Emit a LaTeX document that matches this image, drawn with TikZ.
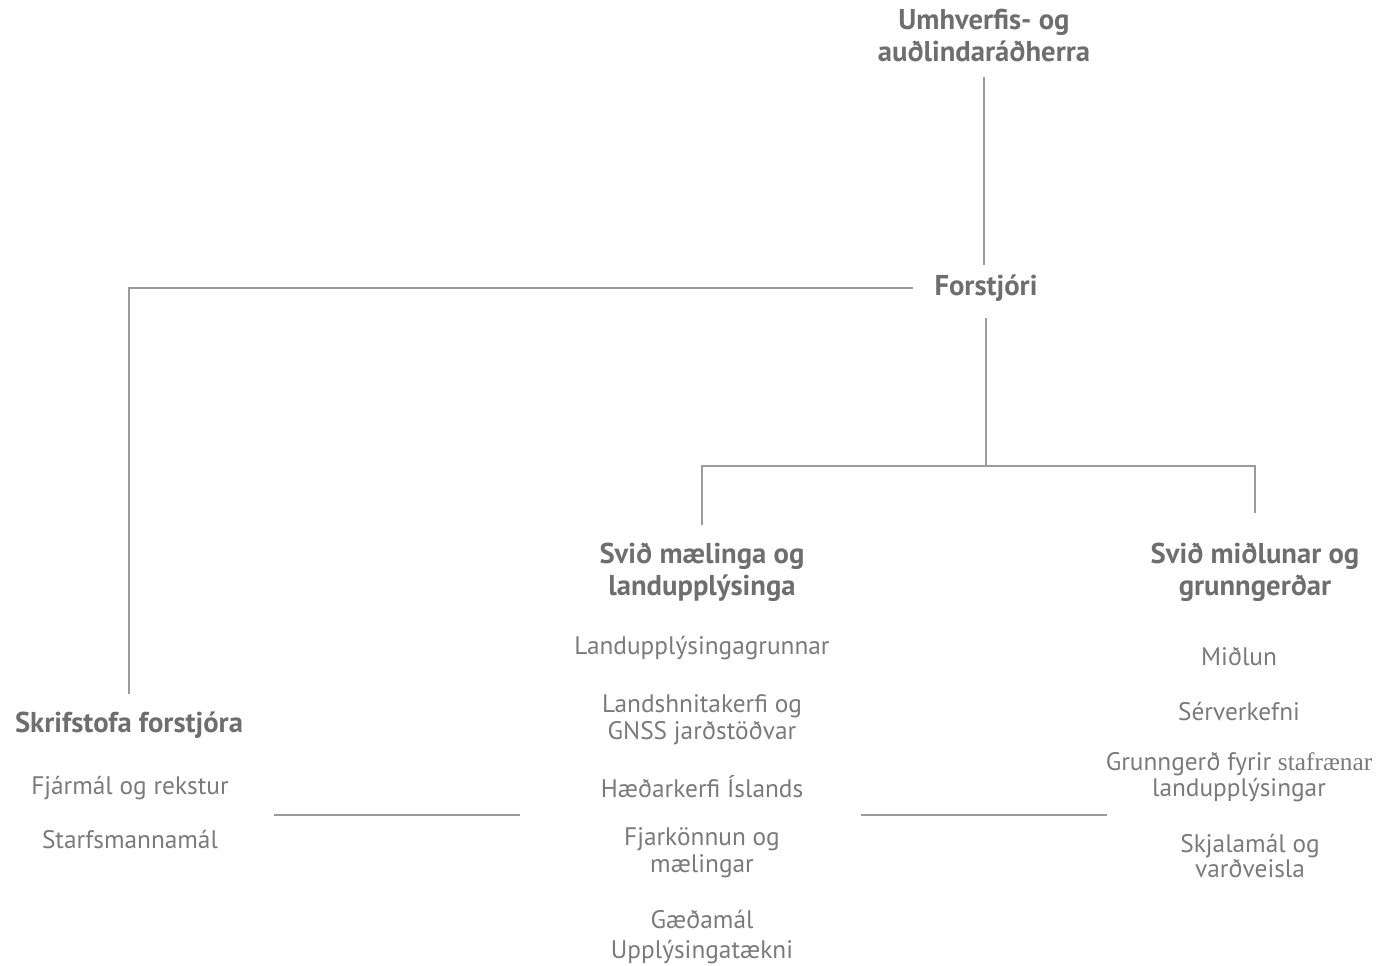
\documentclass[tikz,border=0pt]{standalone}
\usepackage{fontspec}
\setmainfont{PT Sans}
\newfontfamily\serifword{Liberation Serif}
\usetikzlibrary{positioning}
\definecolor{headgray}{RGB}{110,110,110}
\definecolor{itemgray}{RGB}{122,122,122}
\definecolor{linegray}{RGB}{155,155,155}
\tikzset{
  head/.style={font=\fontsize{21.5}{24}\selectfont\bfseries,text=headgray,align=center,inner sep=2pt},
  item/.style={font=\fontsize{19}{20}\selectfont,text=itemgray,align=center,inner sep=2pt},
  link/.style={draw=linegray,line width=1.5pt}
}

\begin{document}
\begin{tikzpicture}[x=0.75pt,y=-0.75pt]
\useasboundingbox (0,0) rectangle (1391,966);

% top of the chart
\node [head] (radh) at (984,36) {Umhverfis- og\\auðlindaráðherra};
\node [head] (forst) at (986,288) {Forstjóri};

% the three units
\node [head] (skrif) at (129,725) {Skrifstofa forstjóra};
\node [head] (svidm) at (702,572) {Svið mælinga og\\landupplýsinga};
\node [head] (svidg) at (1255,572) {Svið miðlunar og\\grunngerðar};

% tasks under each unit
\foreach \i/\y/\element in {1/788/{Fjármál og rekstur},2/840/{Starfsmannamál}}
  \node [item] (s\i) at (130,\y) {\element};

\foreach \i/\y/\element in {1/648/{Landupplýsingagrunnar},
  2/720/{Landshnitakerfi og\\GNSS jarðstöðvar},3/787/{Hæðarkerfi Íslands},
  4/853/{Fjarkönnun og\\mælingar},5/920/{Gæðamál},6/952/{Upplýsingatækni}}
  \node [item] (m\i) at (702,\y) {\element};

\foreach \i/\y/\element in {1/657/{Miðlun},2/712/{Sérverkefni},
  3/777/{Grunngerð fyrir {\serifword stafrænar}\\landupplýsingar}}
  \node [item] (g\i) at (1239,\y) {\element};
\node [item,font=\fontsize{19}{15}\selectfont] (g4) at (1250,856) {Skjalamál og\\varðveisla};

\coordinate (split) at (986,466);
\coordinate (la) at (274,815);
\coordinate (lb) at (520,815);
\coordinate (ra) at (861,815);
\coordinate (rb) at (1107,815);

% connectors
\draw [link,shorten <=9pt,shorten >=5pt] (radh.south) -- (radh.south |- forst.north);
\draw [link,shorten <=14pt,shorten >=11pt] (forst.west) -| (skrif.north);
\draw [link,shorten <=10pt] (forst.south) -- (split);
\draw [link,shorten <=11pt] (svidm.north) |- (split);
\draw [link,shorten >=20pt] (split) -| (svidg.north);
\draw [link] (la) -- (lb);
\draw [link] (ra) -- (rb);

\end{tikzpicture}
\end{document}
